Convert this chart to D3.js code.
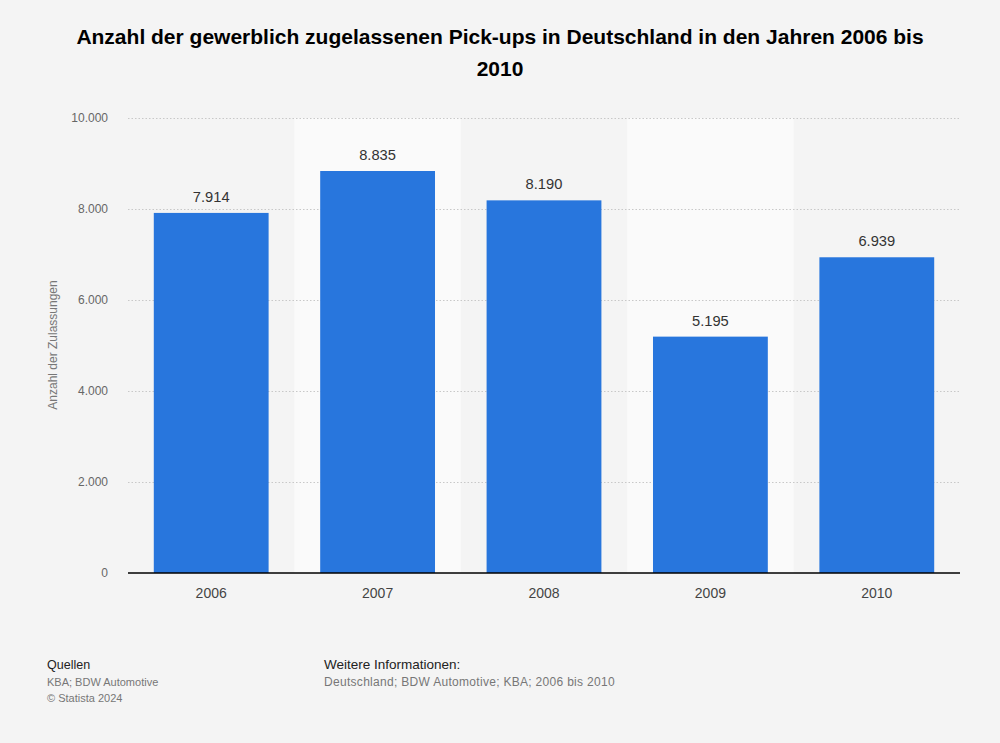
<!DOCTYPE html>
<html><head><meta charset="utf-8">
<script src="https://cdn.jsdelivr.net/npm/d3@7"></script>
<style>
html,body{margin:0;padding:0;background:#f4f4f4;}
svg{display:block;font-family:"Liberation Sans",Arial,sans-serif;}
</style></head>
<body>
<svg id="chart" width="1000" height="743"></svg>
<script>
const years = ["2006","2007","2008","2009","2010"];
const values = [7914, 8835, 8190, 5195, 6939];
const yTicks = [0, 2000, 4000, 6000, 8000, 10000];

const svg = d3.select("#chart");
const W = 1000, H = 743;
const m = {left:128, right:960, top:118, bottom:573};
svg.append("rect").attr("width",W).attr("height",H).attr("fill","#f4f4f4");

const fmt = d3.formatLocale({decimal:",", thousands:".", grouping:[3], currency:["","€"]}).format(",d");

const x = d3.scaleBand().domain(years).range([m.left, m.right]).paddingInner(0.31).paddingOuter(0.155);
const xb = d3.scaleBand().domain(years).range([m.left, m.right]).padding(0);
const y = d3.scaleLinear().domain([0,10000]).range([m.bottom, m.top]);

// alternating bands
svg.append("g").selectAll("rect").data(years.filter((d,i)=>i%2===1)).join("rect")
  .attr("x", d=>xb(d)).attr("width", xb.bandwidth())
  .attr("y", m.top).attr("height", m.bottom-m.top).attr("fill","#fafafa");

// grid
const yAxis = d3.axisLeft(y).tickValues(yTicks).tickFormat(d=>fmt(d)).tickSize(-(m.right-m.left)).tickPadding(20);
const gy = svg.append("g").attr("transform",`translate(${m.left},0)`).call(yAxis);
gy.select(".domain").remove();
gy.selectAll(".tick line").attr("stroke","#c8c8c8").attr("stroke-dasharray","1.5,2").attr("stroke-width",1);
gy.selectAll(".tick text").attr("fill","#666").style("font-size","12px").attr("x",-20);
gy.selectAll(".tick").filter(d=>d===0).select("line").remove();

// bars
svg.append("g").selectAll("rect").data(years).join("rect")
  .attr("x", d=>x(d)).attr("width", x.bandwidth())
  .attr("y", (d,i)=>y(values[i])).attr("height",(d,i)=>y(0)-y(values[i]))
  .attr("fill","#2876dd");

// value labels
svg.append("g").selectAll("text").data(years).join("text")
  .attr("x", d=>x(d)+x.bandwidth()/2).attr("y",(d,i)=>y(values[i])-11)
  .attr("text-anchor","middle").attr("fill","#333").style("font-size","14.7px")
  .text((d,i)=>fmt(values[i]));

// x axis
const gx = svg.append("g").attr("transform",`translate(0,${m.bottom})`)
  .call(d3.axisBottom(x).tickSize(0).tickPadding(15));
gx.select(".domain").attr("stroke","#000").attr("stroke-width",1.5).attr("d",`M${m.left},0H${m.right}`);
gx.selectAll(".tick text").attr("fill","#444").style("font-size","14px");

// y axis title
svg.append("text").attr("transform","translate(57,345) rotate(-90)")
  .attr("text-anchor","middle").attr("fill","#777").style("font-size","12px")
  .text("Anzahl der Zulassungen");

// title
const title = svg.append("text").attr("text-anchor","middle").attr("fill","#000")
  .style("font-size","21px").style("font-weight","bold");
title.append("tspan").attr("x",500).attr("y",44).text("Anzahl der gewerblich zugelassenen Pick-ups in Deutschland in den Jahren 2006 bis");
title.append("tspan").attr("x",500).attr("y",76).text("2010");

// footer
const foot = svg.append("g");
foot.append("text").attr("x",47).attr("y",669).attr("fill","#222").style("font-size","12.5px").text("Quellen");
foot.append("text").attr("x",47).attr("y",686).attr("fill","#777").style("font-size","11px").text("KBA; BDW Automotive");
foot.append("text").attr("x",47).attr("y",702).attr("fill","#777").style("font-size","11px").text("© Statista 2024");
foot.append("text").attr("x",324).attr("y",669).attr("fill","#222").style("font-size","13.5px").text("Weitere Informationen:");
foot.append("text").attr("x",324).attr("y",686).attr("fill","#777").style("font-size","12px").style("letter-spacing","0.3px").text("Deutschland; BDW Automotive; KBA; 2006 bis 2010");
</script>
</body></html>
